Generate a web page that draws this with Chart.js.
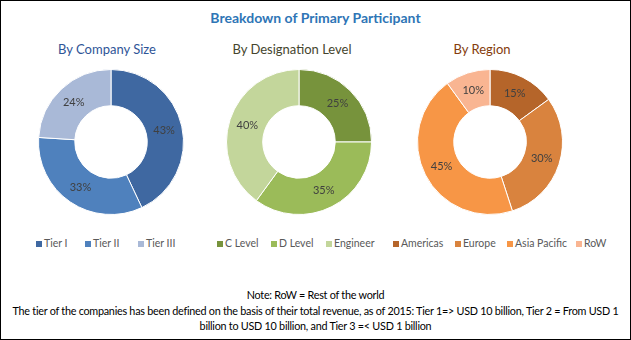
<!DOCTYPE html>
<html>
<head>
<meta charset="utf-8">
<script src="https://cdn.jsdelivr.net/npm/chart.js@4"></script>
<style>
  body { margin: 0; background: #fff; }
  #frame { position: relative; width: 629px; height: 338px; border: 1px solid #000; overflow: hidden; font-family: Lato, sans-serif; }
  .t { position: absolute; white-space: nowrap; }
  #title { left: 0; width: 629px; top: 8px; text-align: center; color: #2E75B6; font-weight: bold; font-size: 14px; }
  .sub { font-size: 13px; top: 40px; width: 200px; text-align: center; }
  canvas { position: absolute; }
  .legend { position: absolute; left: 0; top: 236px; font-size: 10.5px; color: #595959; white-space: nowrap; }
  .legend span.item { position: absolute; }
  .legend i { display: inline-block; width: 6px; height: 6px; margin-right: 2px; vertical-align: 0px; }
  .note { left: 0; width: 629px; text-align: center; font-size: 10.8px; letter-spacing: -0.25px; color: #000; }
</style>
</head>
<body>
<div id="frame">
  <div class="t" id="title">Breakdown of Primary Participant</div>
  <div class="t sub" style="left:6px;color:#2F5597">By Company Size</div>
  <div class="t sub" style="left:191px;color:#45452E">By Designation Level</div>
  <div class="t sub" style="left:381px;color:#843C0C">By Region</div>

  <canvas id="c1" width="146" height="146" style="left:37px;top:68px"></canvas>
  <canvas id="c2" width="146" height="146" style="left:225px;top:68px"></canvas>
  <canvas id="c3" width="146" height="146" style="left:416px;top:68px"></canvas>

  <div class="legend" id="l1"></div>
  <div class="legend" id="l2"></div>
  <div class="legend" id="l3"></div>

  <div class="t note" style="top:287px">Note: RoW = Rest of the world</div>
  <div class="t note" style="top:303px">The tier of the companies has been defined on the basis of their total revenue, as of 2015: Tier 1=> USD 10 billion, Tier 2 = From USD 1</div>
  <div class="t note" style="top:318px">billion to USD 10 billion, and Tier 3 =< USD 1 billion</div>
</div>
<script>
// data
const sizeLabels = ['Tier I', 'Tier II', 'Tier III'];
const sizeValues = [43, 33, 24];
const sizeColors = ['#3F68A1', '#4F81BD', '#A9B9D7'];

const designationLabels = ['C Level', 'D Level', 'Engineer'];
const designationValues = [25, 35, 40];
const designationColors = ['#77933C', '#9BBB59', '#C3D69B'];

const regionLabels = ['Americas', 'Europe', 'Asia Pacific', 'RoW'];
const regionValues = [15, 30, 45, 10];
const regionColors = ['#B5652A', '#D9833E', '#F79646', '#F9B592'];

// legend marker x positions (page px)
const legendPos1 = [35, 84, 137];
const legendPos2 = [216, 270, 325];
const legendPos3 = [392, 454, 506, 575];

// draws the percent label at the middle of each arc
const pctLabels = {
    id: 'pctLabels',
    afterDatasetsDraw(chart) {
        const ctx = chart.ctx;
        const ds = chart.data.datasets[0];
        chart.getDatasetMeta(0).data.forEach((arc, i) => {
            const p = arc.tooltipPosition();
            ctx.save();
            ctx.font = '11px Lato, sans-serif';
            ctx.fillStyle = '#404040';
            ctx.textAlign = 'center';
            ctx.textBaseline = 'middle';
            ctx.fillText(ds.data[i] + '%', p.x, p.y);
            ctx.restore();
        });
    }
};

function makeDonut(id, labels, values, colors) {
    new Chart(document.getElementById(id), {
        type: 'doughnut',
        data: {
            labels: labels,
            datasets: [{
                data: values,
                backgroundColor: colors,
                borderColor: '#ffffff',
                borderWidth: 1
            }]
        },
        options: {
            responsive: false,
            animation: false,
            cutout: '50%',
            layout: { padding: 0 },
            plugins: {
                legend: { display: false },
                tooltip: { enabled: false }
            }
        },
        plugins: [pctLabels]
    });
}

function makeLegend(id, labels, colors, pos) {
    const el = document.getElementById(id);
    el.innerHTML = labels.map((l, i) =>
        `<span class="item" style="left:${pos[i]}px"><i style="background:${colors[i]}"></i>${l}</span>`
    ).join('');
}

makeDonut('c1', sizeLabels, sizeValues, sizeColors);
makeDonut('c2', designationLabels, designationValues, designationColors);
makeDonut('c3', regionLabels, regionValues, regionColors);

makeLegend('l1', sizeLabels, sizeColors, legendPos1);
makeLegend('l2', designationLabels, designationColors, legendPos2);
makeLegend('l3', regionLabels, regionColors, legendPos3);
</script>
</body>
</html>
